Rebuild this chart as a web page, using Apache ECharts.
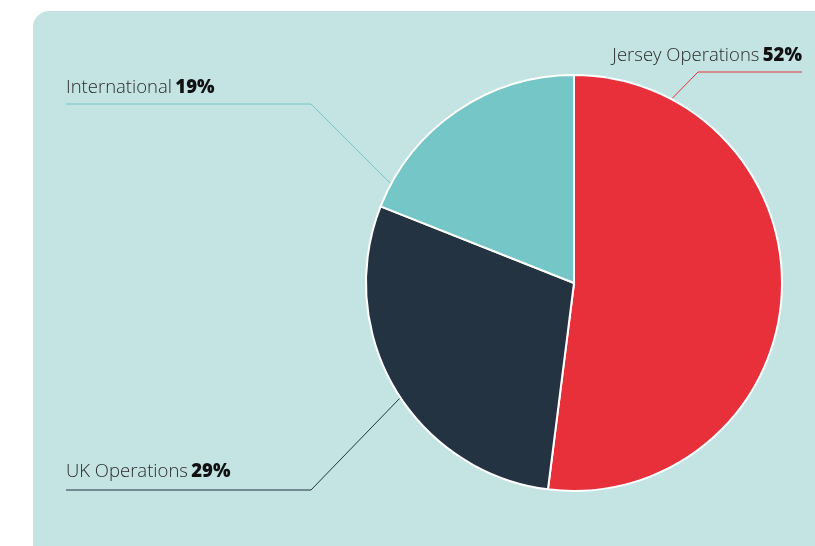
<!DOCTYPE html>
<html>
<head>
<meta charset="utf-8">
<script src="https://cdn.jsdelivr.net/npm/echarts@6/dist/echarts.min.js"></script>
<style>
html,body{margin:0;padding:0;background:#ffffff;}
#chart{width:815px;height:546px;}
</style>
</head>
<body>
<div id="chart"></div>
<script>
// ---- data ----
const categories = ['Jersey Operations', 'UK Operations', 'International'];
const values = [52, 29, 19];
const colors = ['#e8303a', '#233342', '#75c6c7'];

// ---- label layout config (styling only) ----
const CX = 574, CY = 283, R = 209;
const labelCfg = [
  { angle: 28,  elbow: [698, 72],  endX: 802, textX: 802, textY: 56, align: 'right' },
  { angle: 236.5, elbow: [311, 490], endX: 66, textX: 66, textY: 472, align: 'left' },
  { angle: 298.5, elbow: [311, 104], endX: 66, textX: 66, textY: 88, align: 'left' }
];

const chart = echarts.init(document.getElementById('chart'), null, { renderer: 'canvas' });

const data = categories.map((c, i) => ({
  name: c,
  value: values[i],
  itemStyle: { color: colors[i] },
  labelLine: { lineStyle: { color: colors[i], width: 1 } }
}));

chart.setOption({
  animation: false,
  graphic: [{
    type: 'rect',
    z: -10,
    silent: true,
    shape: { x: 33, y: 11, width: 900, height: 700, r: 16 },
    style: { fill: '#c4e3e3' }
  }],
  series: [{
    type: 'pie',
    center: [CX, CY],
    radius: [0, 208],
    startAngle: 90,
    clockwise: true,
    avoidLabelOverlap: false,
    data: data,
    itemStyle: { borderColor: '#ffffff', borderWidth: 2 },
    label: {
      show: true,
      position: 'outside',
      formatter: function (p) { return '{n|' + p.name + '} {v|' + p.value + '%}'; },
      rich: {
        n: { fontFamily: 'Open Sans', fontWeight: 300, fontSize: 18.5, color: '#2b2b2b' },
        v: { fontFamily: 'Open Sans', fontWeight: 800, fontSize: 18.5, color: '#111111' }
      }
    },
    labelLine: { show: true, length: 5, length2: 5 },
    labelLayout: function (params) {
      const c = labelCfg[params.dataIndex];
      const a = c.angle * Math.PI / 180;
      const ax = CX + R * Math.sin(a);
      const ay = CY - R * Math.cos(a);
      return {
        x: c.textX,
        y: c.textY,
        align: c.align,
        verticalAlign: 'middle',
        labelLinePoints: [[ax, ay], [c.elbow[0], c.elbow[1]], [c.endX, c.elbow[1]]]
      };
    }
  }]
});
</script>
</body>
</html>
